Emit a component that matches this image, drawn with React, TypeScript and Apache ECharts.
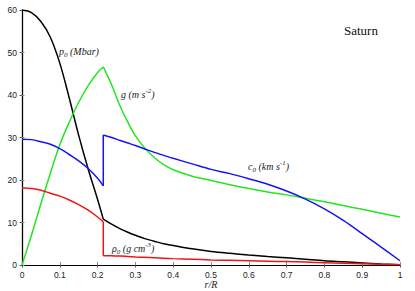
import React, { useEffect, useRef } from "react";
import * as echarts from "echarts";

// radius grid inside the core (r/R) and in the envelope
const rCore = [0, 0.025, 0.05, 0.075, 0.1, 0.125, 0.15, 0.175, 0.2, 0.215];
const rEnv = [0.215, 0.237, 0.26, 0.28, 0.3, 0.325, 0.35, 0.375, 0.4, 0.45, 0.5, 0.55, 0.6, 0.65, 0.7, 0.75, 0.8, 0.85, 0.9, 0.95, 1.0];

// pressure p0 (Mbar)
const pCore = [60, 59.4, 57.3, 53.6, 47.5, 39.3, 30.5, 22.6, 15.4, 10.8];
const pEnv = [10.8, 9.6, 8.5, 7.7, 7.0, 6.2, 5.6, 5.0, 4.6, 3.8, 3.2, 2.75, 2.35, 2.0, 1.7, 1.35, 1.0, 0.75, 0.5, 0.25, 0.05];

// gravity g (m s^-2)
const gCore = [0, 7, 14.4, 21.6, 28.3, 33.6, 38.3, 42.2, 45.3, 46.6];
const gEnv = [46.6, 42.4, 37.3, 33.6, 30.4, 27.5, 25.3, 23.6, 22.4, 20.9, 19.9, 18.9, 18.0, 17.2, 16.5, 15.7, 14.9, 14.0, 13.1, 12.2, 11.3];

// sound speed c0 (km s^-1)
const cCore = [29.6, 29.5, 29.0, 28.4, 27.4, 26.0, 24.5, 22.7, 20.4, 18.6];
const cEnv = [30.6, 30.0, 29.3, 28.7, 28.1, 27.3, 26.5, 25.8, 25.1, 23.8, 22.5, 21.5, 20.3, 19.0, 17.4, 15.5, 13.2, 10.5, 7.4, 4.2, 1.0];

// density rho0 (g cm^-3)
const rhoCore = [18.2, 18.0, 17.6, 16.9, 16.2, 15.3, 14.2, 12.9, 11.3, 10.2];
const rhoEnv = [2.2, 2.15, 2.1, 2.0, 1.9, 1.8, 1.7, 1.6, 1.5, 1.35, 1.2, 1.1, 1.0, 0.9, 0.8, 0.68, 0.55, 0.42, 0.3, 0.17, 0.05];

const xTicks = [0, 0.1, 0.2, 0.3, 0.4, 0.5, 0.6, 0.7, 0.8, 0.9, 1];
const yTicks = [0, 10, 20, 30, 40, 50, 60];

const zip = (xs: number[], ys: number[]) => xs.map((x, i) => [x, ys[i]]);

const BLACK = "#000000";
const GREEN = "#22e622";
const BLUE = "#1515f0";
const RED = "#f01515";

export default function App() {
  const ref = useRef<HTMLDivElement>(null);
  useEffect(() => {
    document.body.style.margin = "0";
    if (!ref.current) return;
    const chart = echarts.init(ref.current, null, { renderer: "svg" });
    const line = (data: number[][], color: string, smooth: boolean | number = 0.35) => ({
      type: "line",
      data,
      smooth,
      showSymbol: false,
      symbol: "none",
      lineStyle: { color, width: 1.5 },
      xAxisIndex: 0,
      yAxisIndex: 0,
      z: 3,
    });
    const serif = "'Liberation Serif', 'DejaVu Serif', serif";
    const rich = {
      base: { fontSize: 10, fontFamily: serif, fontStyle: "italic", color: "#222", lineHeight: 14, verticalAlign: "middle" },
      sub: { fontSize: 7, fontFamily: serif, fontStyle: "italic", color: "#222", lineHeight: 7, verticalAlign: "bottom" },
      sup: { fontSize: 7, fontFamily: serif, fontStyle: "italic", color: "#222", lineHeight: 7, verticalAlign: "top" },
    };
    const lbl = (x: number, y: number, text: string) => ({
      type: "text",
      left: x,
      top: y,
      z: 10,
      style: {
        text,
        fill: "#222",
        font: `italic 10px ${serif}`,
        rich,
      },
    });
    chart.setOption({
      animation: false,
      grid: { left: 22, right: 15, top: 10, bottom: 26, outerBoundsMode: "none", containLabel: false },
      xAxis: [
        {
          type: "value",
          min: 0,
          max: 1,
          interval: 0.1,
          position: "bottom",
          axisLine: { show: true, lineStyle: { color: "#8a8a8a", width: 1.2 } },
          axisTick: { show: true, inside: true, length: 3, lineStyle: { color: "#8a8a8a" } },
          splitLine: { show: false },
          axisLabel: {
            color: "#222",
            fontSize: 8.5,
            fontFamily: "'Liberation Sans', Arial, sans-serif",
            margin: 5,
            formatter: (v: number) => (xTicks.some((t) => Math.abs(t - v) < 1e-9) ? String(Math.round(v * 10) / 10) : ""),
          },
          name: "r/R",
          nameLocation: "middle",
          nameGap: 14,
          nameMoveOverlap: false,
          nameTextStyle: { fontFamily: serif, fontStyle: "italic", fontSize: 10, color: "#222" },
        },
        {
          type: "value",
          min: 0,
          max: 1,
          interval: 0.1,
          position: "top",
          axisLine: { show: true, lineStyle: { color: "#000", width: 1.2 } },
          axisTick: { show: true, inside: true, length: 2.5, lineStyle: { color: "#555" } },
          axisLabel: { show: false },
          splitLine: { show: false },
        },
      ],
      yAxis: [
        {
          type: "value",
          min: 0,
          max: 60,
          interval: 10,
          position: "left",
          axisLine: { show: true, lineStyle: { color: "#8a8a8a", width: 1.2 } },
          axisTick: { show: true, inside: true, length: 2.5, lineStyle: { color: "#8a8a8a" } },
          splitLine: { show: false },
          axisLabel: {
            color: "#222",
            fontSize: 8.5,
            fontFamily: "'Liberation Sans', Arial, sans-serif",
            margin: 5,
            formatter: (v: number) => (yTicks.includes(v) ? String(v) : ""),
          },
        },
        {
          type: "value",
          min: 0,
          max: 60,
          interval: 10,
          position: "right",
          axisLine: { show: true, lineStyle: { color: "#000", width: 1.2 } },
          axisTick: { show: true, inside: true, length: 2.5, lineStyle: { color: "#555" } },
          axisLabel: { show: false },
          splitLine: { show: false },
        },
      ],
      series: [
        line(zip(rCore, pCore), BLACK),
        line(zip(rEnv, pEnv), BLACK),
        line(zip(rCore, gCore), GREEN),
        line(zip(rEnv, gEnv), GREEN),
        line(zip(rCore, cCore), BLUE),
        line([[rCore[rCore.length - 1], cCore[cCore.length - 1]], [rEnv[0], cEnv[0]]], BLUE, false),
        line(zip(rEnv, cEnv), BLUE),
        line(zip(rCore, rhoCore), RED),
        line([[rCore[rCore.length - 1], rhoCore[rhoCore.length - 1]], [rEnv[0], rhoEnv[0]]], RED, false),
        line(zip(rEnv, rhoEnv), RED),
      ],
      graphic: [
        lbl(59, 46, "{base|p}{sub|0}{base| (Mbar)}"),
        lbl(121, 87, "{base|g (m s}{sup|-2}{base|)}"),
        lbl(248, 159, "{base|c}{sub|0}{base| (km s}{sup|-1}{base|)}"),
        lbl(112, 241, "{base|\u03c1}{sub|0}{base| (g cm}{sup|-3}{base|)}"),
        {
          type: "text",
          left: 344,
          top: 24,
          z: 10,
          style: { text: "Saturn", fill: "#111", font: `13px ${serif}` },
        },
      ],
    });
    return () => chart.dispose();
  }, []);
  return <div ref={ref} style={{ width: 415, height: 291 }} />;
}
